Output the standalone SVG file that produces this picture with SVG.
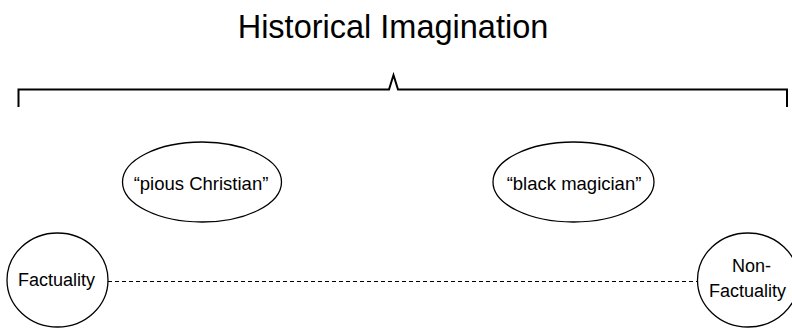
<svg xmlns="http://www.w3.org/2000/svg" width="792" height="331" viewBox="0 0 792 331">
<style>
.t{font-family:"Liberation Sans","Noto Sans",sans-serif;fill:#000;text-anchor:middle}
.s{fill:#fff;stroke:#000;stroke-width:1.3}
.c{fill:none;stroke:#000}
</style>
<rect width="792" height="331" fill="#fff"/>
<text id="title" class="t" x="393" y="38" font-size="32.5">Historical Imagination</text>
<g id="bracket">
<path class="c" stroke-width="2" d="M18.5,107 V89.5 H389 L393.5,75 L398,89.5 H787 V107"/>
</g>
<g id="connectors">
<line class="c" x1="108" y1="281.5" x2="698" y2="281.5" stroke-width="1.2" stroke-dasharray="4,3"/>
</g>
<g id="pious">
<ellipse class="s" cx="202" cy="182" rx="79.5" ry="40"/>
<text class="t" x="201" y="190" font-size="18.5">“pious Christian”</text>
</g>
<g id="black">
<ellipse class="s" cx="573.5" cy="182" rx="80.5" ry="40"/>
<text class="t" x="574" y="190" font-size="18.5">“black magician”</text>
</g>
<g id="factuality">
<ellipse class="s" cx="57.5" cy="280" rx="50.5" ry="47"/>
<text class="t" x="56.5" y="286" font-size="18">Factuality</text>
</g>
<g id="nonfactuality">
<ellipse class="s" cx="748" cy="280" rx="50.5" ry="47"/>
<text class="t" x="751.5" y="272" font-size="18">Non-</text>
<text class="t" x="747.5" y="297" font-size="18">Factuality</text>
</g>
</svg>
